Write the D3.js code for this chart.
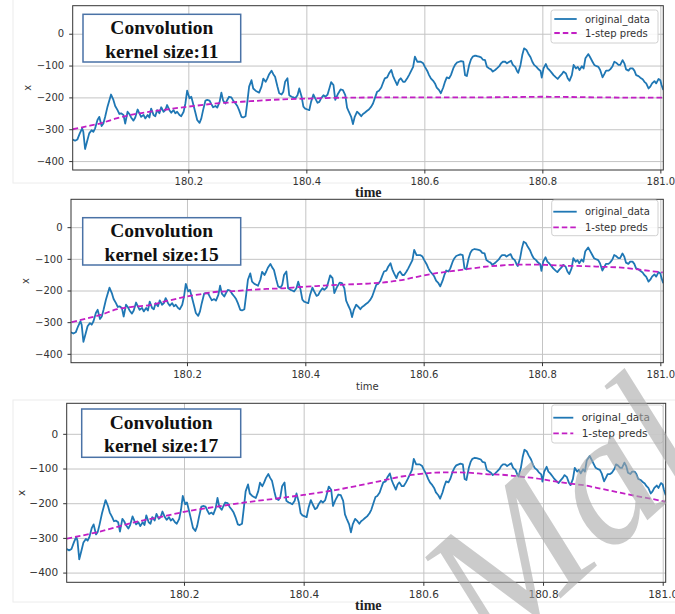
<!DOCTYPE html>
<html>
<head>
<meta charset="utf-8">
<script src="https://cdn.jsdelivr.net/npm/d3@7"></script>
<style>
  body { margin: 0; background: #fff; }
</style>
</head>
<body>
<div id="chart-area"></div>
<script>
const originalData = [
  [180.004,-332],[180.008,-336],[180.012,-332],[180.016,-313],[180.020,-297],[180.022,-308],[180.025,-362],
  [180.029,-334],[180.032,-313],[180.036,-303],[180.039,-308],[180.042,-297],[180.046,-271],[180.049,-261],
  [180.053,-290],[180.056,-282],[180.059,-261],[180.063,-229],[180.069,-191],[180.073,-208],[180.076,-227],
  [180.080,-240],[180.083,-252],[180.086,-250],[180.090,-255],[180.093,-282],[180.097,-245],[180.100,-252],
  [180.103,-263],[180.107,-273],[180.110,-263],[180.114,-238],[180.117,-250],[180.120,-261],[180.124,-255],
  [180.127,-266],[180.131,-255],[180.134,-263],[180.137,-235],[180.141,-255],[180.144,-259],[180.147,-240],
  [180.151,-250],[180.154,-231],[180.158,-245],[180.161,-240],[180.164,-224],[180.168,-240],[180.171,-248],
  [180.175,-240],[180.178,-250],[180.181,-245],[180.185,-255],[180.188,-259],[180.192,-245],[180.195,-219],
  [180.198,-179],[180.202,-203],[180.205,-198],[180.208,-219],[180.212,-248],[180.215,-271],[180.219,-280],
  [180.222,-266],[180.225,-240],[180.229,-210],[180.232,-208],[180.236,-210],[180.239,-221],[180.242,-231],
  [180.246,-227],[180.249,-232],[180.253,-214],[180.256,-185],[180.259,-210],[180.263,-219],[180.266,-208],
  [180.269,-198],[180.273,-200],[180.276,-210],[180.280,-219],[180.283,-227],[180.286,-240],[180.290,-261],
  [180.293,-263],[180.297,-259],[180.300,-214],[180.303,-166],[180.307,-146],[180.310,-172],[180.314,-179],
  [180.317,-182],[180.320,-185],[180.324,-166],[180.327,-141],[180.331,-151],[180.334,-140],[180.337,-127],
  [180.341,-116],[180.344,-127],[180.347,-135],[180.351,-166],[180.354,-187],[180.358,-191],[180.361,-182],
  [180.364,-151],[180.368,-140],[180.371,-193],[180.375,-198],[180.378,-200],[180.381,-203],[180.385,-193],
  [180.388,-172],[180.392,-198],[180.395,-229],[180.398,-235],[180.402,-238],[180.405,-240],[180.408,-214],
  [180.412,-191],[180.415,-203],[180.419,-217],[180.422,-214],[180.425,-203],[180.429,-193],[180.432,-198],
  [180.436,-191],[180.439,-172],[180.442,-152],[180.446,-161],[180.449,-208],[180.453,-191],[180.458,-175],
  [180.462,-177],[180.466,-193],[180.469,-232],[180.472,-245],[180.476,-261],[180.479,-284],[180.482,-261],
  [180.486,-245],[180.489,-250],[180.493,-259],[180.496,-252],[180.499,-248],[180.503,-242],[180.506,-238],
  [180.510,-229],[180.513,-219],[180.516,-203],[180.520,-182],[180.523,-179],[180.527,-169],[180.530,-154],
  [180.533,-140],[180.537,-137],[180.540,-125],[180.544,-114],[180.547,-133],[180.550,-146],[180.554,-161],
  [180.557,-146],[180.560,-140],[180.564,-151],[180.567,-151],[180.571,-140],[180.574,-130],[180.577,-119],
  [180.581,-104],[180.584,-72],[180.588,-88],[180.591,-88],[180.594,-88],[180.598,-93],[180.601,-104],
  [180.605,-117],[180.608,-130],[180.611,-140],[180.615,-148],[180.618,-156],[180.621,-169],[180.625,-177],
  [180.628,-187],[180.632,-169],[180.635,-151],[180.638,-137],[180.642,-140],[180.645,-130],[180.649,-109],
  [180.652,-98],[180.655,-91],[180.659,-88],[180.662,-86],[180.666,-88],[180.669,-130],[180.672,-133],
  [180.676,-98],[180.679,-81],[180.682,-72],[180.686,-69],[180.689,-70],[180.693,-72],[180.696,-74],
  [180.699,-81],[180.703,-83],[180.706,-104],[180.710,-109],[180.713,-112],[180.716,-119],[180.720,-114],
  [180.723,-109],[180.727,-102],[180.730,-93],[180.733,-88],[180.737,-88],[180.740,-93],[180.744,-88],
  [180.747,-85],[180.750,-98],[180.754,-104],[180.757,-117],[180.759,-123],[180.763,-98],[180.766,-67],
  [180.769,-46],[180.773,-51],[180.776,-62],[180.780,-74],[180.783,-88],[180.786,-98],[180.790,-104],
  [180.793,-111],[180.797,-117],[180.799,-138],[180.802,-109],[180.806,-95],[180.809,-109],[180.812,-114],
  [180.816,-123],[180.819,-130],[180.823,-137],[180.826,-142],[180.829,-135],[180.833,-127],[180.836,-119],
  [180.840,-125],[180.843,-140],[180.846,-148],[180.850,-130],[180.853,-98],[180.857,-109],[180.860,-104],
  [180.863,-114],[180.867,-102],[180.870,-109],[180.873,-77],[180.878,-64],[180.881,-74],[180.885,-88],
  [180.888,-98],[180.892,-102],[180.895,-104],[180.898,-114],[180.902,-137],[180.905,-127],[180.908,-116],
  [180.912,-116],[180.915,-112],[180.919,-102],[180.922,-88],[180.925,-91],[180.929,-98],[180.932,-98],
  [180.936,-83],[180.939,-93],[180.942,-112],[180.946,-116],[180.949,-109],[180.953,-109],[180.956,-116],
  [180.959,-130],[180.963,-133],[180.966,-138],[180.970,-143],[180.973,-151],[180.976,-156],[180.980,-172],
  [180.983,-166],[180.986,-156],[180.990,-149],[180.993,-156],[180.997,-142],[181.000,-146],[181.002,-161],
  [181.005,-177]
];

// 1-step predictions for each kernel size
const preds11 = [
  [180.004,-300],[180.028,-291],[180.050,-282],[180.078,-266],[180.107,-253],[180.135,-245],[180.163,-238],
  [180.200,-229],[180.248,-219],[180.305,-212],[180.361,-206],[180.418,-203],[180.458,-201],[180.550,-200],
  [180.650,-200],[180.750,-199],[180.800,-198],[180.900,-200],[181.005,-201]
];
const preds15 = [
  [180.005,-300],[180.031,-288],[180.054,-277],[180.082,-259],[180.110,-251],[180.138,-246],[180.166,-233],
  [180.200,-219],[180.222,-212],[180.251,-204],[180.279,-202],[180.307,-198],[180.335,-195],[180.363,-193],
  [180.391,-189],[180.419,-186],[180.447,-183],[180.507,-178],[180.535,-174],[180.563,-167],[180.591,-156],
  [180.619,-146],[180.647,-139],[180.675,-132],[180.703,-125],[180.731,-121],[180.760,-118],[180.788,-118],
  [180.816,-120],[180.844,-122],[180.872,-123],[180.900,-125],[180.928,-127],[180.956,-132],[180.985,-139],
  [181.004,-143]
];
const preds17 = [
  [180.004,-302],[180.059,-282],[180.115,-256],[180.171,-236],[180.200,-225],[180.255,-210],[180.310,-196],
  [180.366,-184],[180.400,-176],[180.453,-162],[180.509,-143],[180.536,-133],[180.564,-123],[180.592,-116],
  [180.620,-112],[180.648,-111],[180.676,-112],[180.704,-116],[180.732,-118],[180.760,-123],[180.788,-128],
  [180.816,-136],[180.843,-143],[180.871,-149],[180.899,-159],[180.927,-169],[180.955,-179],[180.983,-188],
  [181.005,-196]
];

const xTicks = [180.2, 180.4, 180.6, 180.8, 181.0];
const yTicks = [0, -100, -200, -300, -400];
const xLimits = [180.004, 181.005];
const yLimits = [-428, 88];
const seriesNames = ['original_data', '1-step preds'];
const kernelSizes = [11, 15, 17];

const blue = '#1f77b4';
const magenta = '#c21fc4';

const panels = [
  { preds: preds11, left: 72.7, right: 663.3, top: 5.7, bottom: 170,
    box: { x: 83, y: 14.3, w: 157.7, h: 47.7, b1: 34.3, b2: 57.5 },
    legend: { x: 551, y: 10, w: 107, h: 33, r1: 19, r2: 33, l1: 554.3, l2: 576.7, tx: 585, fs: 10 },
    time: { x: 368.3, y: 197, serif: true }, ylab: 27, fs: 10 },
  { preds: preds15, left: 71, right: 663.3, top: 199.3, bottom: 362.7,
    box: { x: 82.7, y: 217.7, w: 158, h: 47.3, b1: 236.7, b2: 260.5 },
    legend: { x: 551.7, y: 200, w: 106.3, h: 35.7, r1: 211.7, r2: 227.3, l1: 553.3, l2: 576.7, tx: 585, fs: 10 },
    time: { x: 367.3, y: 390, serif: false }, ylab: 25, fs: 10 },
  { preds: preds17, left: 66.7, right: 665.7, top: 403.3, bottom: 582.3,
    box: { x: 81.7, y: 409, w: 159, h: 48.3, b1: 429, b2: 452.3 },
    legend: { x: 551.7, y: 405, w: 111.3, h: 38, r1: 417.7, r2: 433.3, l1: 553.3, l2: 573.3, tx: 581.7, fs: 10.5 },
    time: { x: 368.3, y: 610, serif: true }, ylab: 21.7, fs: 10.5 }
];

const svg = d3.select('#chart-area').append('svg')
    .attr('width', 675)
    .attr('height', 614)
    .style('font-family', '"DejaVu Sans", sans-serif');

// faint borders of the pasted figure images
svg.append('rect').attr('x', 13).attr('y', -2).attr('width', 670).attr('height', 185)
    .attr('fill', 'none').attr('stroke', '#ececec');
svg.append('rect').attr('x', 13).attr('y', 400).attr('width', 670).attr('height', 202)
    .attr('fill', 'none').attr('stroke', '#ececec');

panels.forEach((p, i) => {
    let x = d3.scaleLinear().domain(xLimits).range([p.left, p.right]);
    let y = d3.scaleLinear().domain(yLimits).range([p.bottom, p.top]);
    let h = p.bottom - p.top;
    let w = p.right - p.left;
    let group = svg.append('g');

    // grid
    group.append('g')
        .attr('transform', `translate(0, ${p.bottom})`)
        .call(d3.axisBottom(x).tickValues(xTicks).tickSize(-h).tickFormat(''))
        .call(s => s.select('.domain').remove())
        .selectAll('line').attr('stroke', '#c4c4c4').attr('stroke-width', 1);
    group.append('g')
        .attr('transform', `translate(${p.left}, 0)`)
        .call(d3.axisLeft(y).tickValues(yTicks).tickSize(-w).tickFormat(''))
        .call(s => s.select('.domain').remove())
        .selectAll('line').attr('stroke', '#c4c4c4').attr('stroke-width', 1);

    group.append('clipPath').attr('id', 'clip' + i)
        .append('rect').attr('x', p.left).attr('y', p.top).attr('width', w).attr('height', h);

    let line = d3.line().x(d => x(d[0])).y(d => y(d[1]));

    group.append('path')
        .datum(originalData)
        .attr('clip-path', `url(#clip${i})`)
        .attr('fill', 'none')
        .attr('stroke', blue)
        .attr('stroke-width', 1.8)
        .attr('stroke-linejoin', 'round')
        .attr('d', line);

    group.append('path')
        .datum(p.preds)
        .attr('clip-path', `url(#clip${i})`)
        .attr('fill', 'none')
        .attr('stroke', magenta)
        .attr('stroke-width', 1.8)
        .attr('stroke-dasharray', '5.5,3')
        .attr('d', line.curve(d3.curveMonotoneX));

    // frame
    group.append('rect')
        .attr('x', p.left).attr('y', p.top).attr('width', w).attr('height', h)
        .attr('fill', 'none').attr('stroke', '#333').attr('stroke-width', 1);

    let bottomAxis = d3.axisBottom(x).tickValues(xTicks).tickSize(3.5).tickPadding(4.5)
        .tickFormat(d3.format('.1f'));
    group.append('g')
        .attr('class', 'bottom axis')
        .attr('transform', `translate(0, ${p.bottom})`)
        .call(bottomAxis)
        .call(s => s.select('.domain').remove())
        .call(s => s.selectAll('line').attr('stroke', '#333'))
        .selectAll('text')
            .attr('fill', '#333')
            .attr('font-size', p.fs + 'px')
            .style('font-family', '"DejaVu Sans", sans-serif');

    let leftAxis = d3.axisLeft(y).tickValues(yTicks).tickSize(3.5).tickPadding(5)
        .tickFormat(d3.format('d'));
    group.append('g')
        .attr('class', 'left axis')
        .attr('transform', `translate(${p.left}, 0)`)
        .call(leftAxis)
        .call(s => s.select('.domain').remove())
        .call(s => s.selectAll('line').attr('stroke', '#333'))
        .selectAll('text')
            .attr('fill', '#333')
            .attr('font-size', p.fs + 'px')
            .style('font-family', '"DejaVu Sans", sans-serif');

    // y label
    group.append('text')
        .attr('transform', `translate(${p.ylab}, ${(p.top + p.bottom) / 2}) rotate(-90)`)
        .attr('text-anchor', 'middle')
        .attr('dy', '0.35em')
        .attr('font-size', p.fs + 'px')
        .attr('fill', '#333')
        .text('x');

    // x label
    let tl = group.append('text')
        .attr('x', p.time.x)
        .attr('y', p.time.y)
        .attr('text-anchor', 'middle')
        .text('time');
    if (p.time.serif) {
        tl.style('font-family', '"Liberation Serif", serif')
          .attr('font-weight', 'bold').attr('font-size', '14px').attr('fill', '#222');
    } else {
        tl.attr('font-size', '10px').attr('fill', '#333');
    }

    // legend
    let lg = p.legend;
    group.append('rect')
        .attr('x', lg.x).attr('y', lg.y).attr('width', lg.w).attr('height', lg.h)
        .attr('rx', 2.5)
        .attr('fill', '#fff').attr('fill-opacity', 0.85)
        .attr('stroke', '#d0d0d0').attr('stroke-width', 1);
    [[lg.r1, blue, null], [lg.r2, magenta, '5.5,3']].forEach((row, j) => {
        let l = group.append('line')
            .attr('x1', lg.l1).attr('x2', lg.l2)
            .attr('y1', row[0]).attr('y2', row[0])
            .attr('stroke', row[1]).attr('stroke-width', 1.8);
        if (row[2]) l.attr('stroke-dasharray', row[2]);
        group.append('text')
            .attr('x', lg.tx).attr('y', row[0])
            .attr('dy', '0.35em')
            .attr('font-size', lg.fs + 'px')
            .attr('fill', '#333')
            .text(seriesNames[j]);
    });

    // annotation box
    let b = p.box;
    group.append('rect')
        .attr('x', b.x).attr('y', b.y).attr('width', b.w).attr('height', b.h)
        .attr('fill', '#fff')
        .attr('stroke', '#4a72a6').attr('stroke-width', 1.5);
    let cx = b.x + b.w / 2;
    group.append('text')
        .attr('x', cx).attr('y', b.b1)
        .attr('text-anchor', 'middle')
        .style('font-family', '"Liberation Serif", serif')
        .attr('font-weight', 'bold').attr('font-size', '19.5px').attr('fill', '#111')
        .text('Convolution');
    group.append('text')
        .attr('x', cx).attr('y', b.b2)
        .attr('text-anchor', 'middle')
        .style('font-family', '"Liberation Serif", serif')
        .attr('font-weight', 'bold').attr('font-size', '19.5px').attr('fill', '#111')
        .text('kernel size:' + kernelSizes[i]);
});

// watermark
svg.append('text')
    .attr('transform', 'translate(492, 660) rotate(-42)')
    .style('font-family', '"Liberation Serif", serif')
    .attr('font-style', 'italic')
    .attr('font-size', '185px')
    .attr('fill', '#a8a8a8')
    .attr('fill-opacity', 0.6)
    .text('Mal');
</script>
</body>
</html>
